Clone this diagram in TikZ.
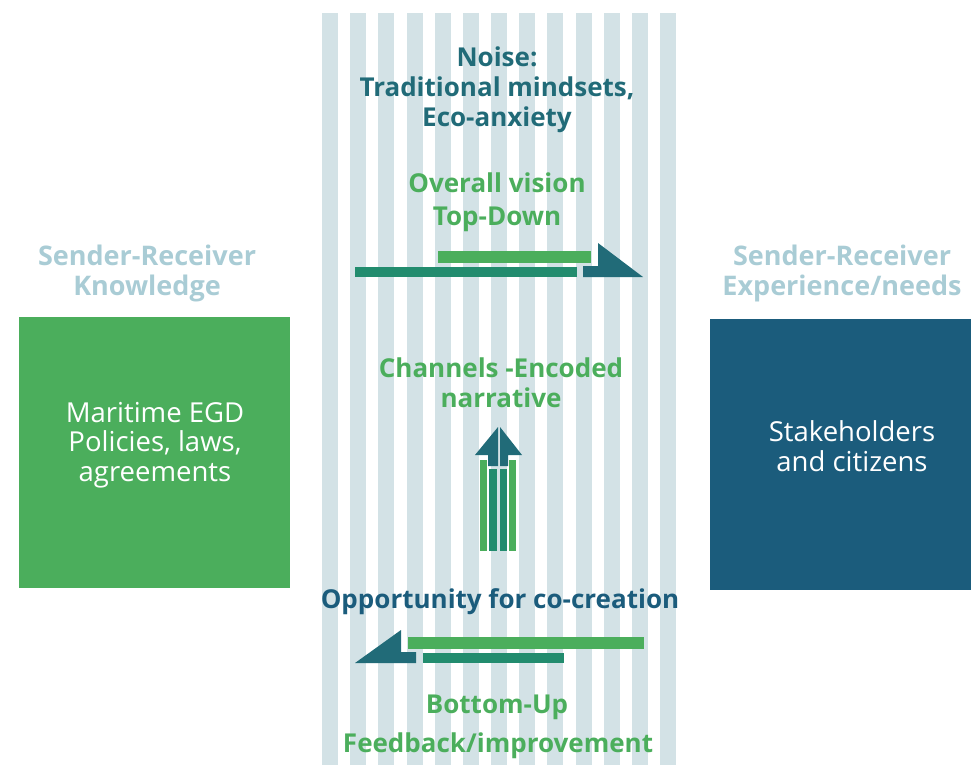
\documentclass[tikz,border=0pt]{standalone}
\usepackage{fontspec}
\setmainfont{Open Sans}
\usepackage{tikz}
\usetikzlibrary{positioning}

\definecolor{stripegray}{HTML}{D3E2E6}
\definecolor{boxgreen}{HTML}{4BAE5C}
\definecolor{boxblue}{HTML}{1B5C7C}
\definecolor{barlight}{HTML}{4BAE5C}
\definecolor{bardark}{HTML}{228C6E}
\definecolor{arrowteal}{HTML}{216B78}
\definecolor{paletext}{HTML}{A9CCD5}

\tikzset{
	txt/.style = {font=\bfseries\fontsize{26}{30}\selectfont, align=center, anchor=base, inner sep=0pt},
	headtxt/.style = {txt, font=\bfseries\fontsize{27}{30}\selectfont, text=paletext},
	boxtxt/.style = {txt, font=\fontsize{27.5}{29.5}\selectfont, text=white}
}

\begin{document}
\begin{tikzpicture}[x=1pt, y=-1pt]
					\useasboundingbox (0,0) rectangle (971,765);
					\foreach \i in {0,...,12}
						\fill[stripegray] (322+28.17*\i,13) rectangle ++(16,752);
					
					\fill[boxgreen] (19,317) rectangle (290,588);
					\fill[boxblue] (710,319) rectangle (971,590);
					
					\node[headtxt] (knowhead) at (147,295) {Sender-Receiver\\Knowledge};
					\node[headtxt] (needhead) at (842,295) {Sender-Receiver\\Experience/needs};
					\node[boxtxt] (policies) at (155,481) {Maritime EGD\\Policies, laws,\\agreements};
					\node[boxtxt] (citizens) at (852,471) {Stakeholders\\and citizens};
					
					\node[txt, text=arrowteal] (noise) at (497,127) {Noise:\\Traditional mindsets,\\Eco-anxiety};
					\node[txt, text=barlight] (vision) at (497,192) {Overall vision};
					\node[txt, text=barlight] (topdown) at (497,225) {Top-Down};
					\node[txt, text=barlight] (channels) at (501,407) {Channels -Encoded\\narrative};
					\node[txt, text=boxblue] (cocreate) at (500,608) {Opportunity for co-creation};
					\node[txt, text=barlight] (bottomup) at (497,713) {Bottom-Up};
					\node[txt, text=barlight] (feedback) at (498,752) {Feedback/improvement};
					
					\fill[barlight] (438,251) rectangle (591,263);
					\fill[bardark] (355,267) rectangle (577,277);
					\fill[arrowteal] (598,243) -- (643,277) -- (583,277) -- (583,266) -- (598,266) -- cycle;
					
					\fill[arrowteal] (498,427) -- (475,455) -- (488,455) -- (488,466) -- (498,466) -- cycle;
					\fill[arrowteal] (500,427) -- (522,455) -- (508,455) -- (508,466) -- (500,466) -- cycle;
					\fill[barlight] (480,460) rectangle (487,551);
					\fill[bardark] (489,469) rectangle (497,551);
					\fill[bardark] (500,469) rectangle (507,551);
					\fill[barlight] (509,460) rectangle (516,551);
					
					\fill[barlight] (408,637) rectangle (644,649);
					\fill[bardark] (423,653) rectangle (564,663);
					\fill[arrowteal] (401,630) -- (401,652) -- (416,652) -- (416,663) -- (355,663) -- cycle;
				\end{tikzpicture}
\end{document}
